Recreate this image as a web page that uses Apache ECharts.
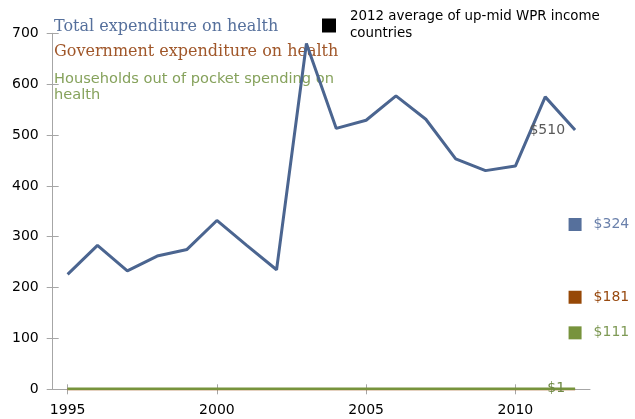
<!DOCTYPE html>
<html>
<head>
<meta charset="utf-8">
<script src="https://cdn.jsdelivr.net/npm/echarts@6/dist/echarts.min.js"></script>
<style>html,body{margin:0;padding:0;background:#fff}#c{width:635px;height:419px}</style>
</head>
<body>
<div id="c"></div>
<script>
// ---- data ----
var years = [1995,1996,1997,1998,1999,2000,2001,2002,2003,2004,2005,2006,2007,2008,2009,2010,2011,2012];
var totalExp = [226,283,233,262,275,332,283,235,680,513,529,577,531,453,430,439,575,510];
var govExp = [0,0,0,0,0,0,0,0,0,0,0,0,0,0,0,0,0,0];
var householdExp = [1,1,1,1,1,1,1,1,1,1,1,1,1,1,1,1,1,1];
var avgYear = 2012;
var avgValues = [324,181,111];
var yTicks = [0,100,200,300,400,500,600,700];
var xTickYears = [1995,2000,2005,2010];
var names = {
  total: 'Total expenditure on health',
  gov: 'Government expenditure on health',
  hh: 'Households out of pocket spending on health',
  avg: '2012 average of up-mid WPR income countries'
};

// ---- styles ----
var cBlue = '#4b6590', cBlueTxt = '#56709c';
var cOrange = '#974806', cOrangeTxt = '#a0572a';
var cGreen = '#77933c', cGreenTxt = '#86a25c';
var avgColors = ['#56709c', '#974806', '#77933c'];
var avgLabelColors = ['#6a80ab', '#984a10', '#7f9a56'];
var axisGray = '#a6a6a6';
var sans = 'DejaVu Sans';

function pairs(xs, ys){ return xs.map(function(x,i){ return [x, ys[i]]; }); }
function lastLabel(arr, txt, color){
  return arr.map(function(v,i){
    if (i === arr.length-1) return {value:[years[i], v], label:{show:true, position:'left', distance:10, formatter:txt, color:color, fontFamily:sans, fontSize:14}};
    return [years[i], v];
  });
}

var chart = echarts.init(document.getElementById('c'));
var grid = {left:52.7, right:45, top:33.3, bottom:29.7};
var xBase = {type:'value', min:1994.5, max:2012.5, splitLine:{show:false}};
var yBase = {type:'value', min:0, max:700, interval:100, splitLine:{show:false}};

chart.setOption({
  animation:false,
  backgroundColor:'#fff',
  grid: grid,
  xAxis: [
    Object.assign({}, xBase, {
      axisLine:{lineStyle:{color:axisGray, width:1}},
      axisTick:{show:true, length:5, customValues:xTickYears, lineStyle:{color:axisGray}},
      axisLabel:{customValues:xTickYears, color:'#000', fontFamily:sans, fontSize:14, margin:14, formatter:function(v){return String(v);}}
    }),
    Object.assign({}, xBase, {
      position:'bottom',
      axisLine:{show:false},
      axisTick:{show:true, inside:true, length:5, customValues:xTickYears, lineStyle:{color:axisGray}},
      axisLabel:{show:false}
    })
  ],
  yAxis: [
    Object.assign({}, yBase, {
      axisLine:{show:true, lineStyle:{color:axisGray, width:1}},
      axisTick:{show:true, length:6, lineStyle:{color:axisGray}},
      axisLabel:{color:'#000', fontFamily:sans, fontSize:14, margin:14}
    }),
    Object.assign({}, yBase, {
      position:'left',
      axisLine:{show:false},
      axisTick:{show:true, inside:true, length:6, lineStyle:{color:axisGray}},
      axisLabel:{show:false}
    })
  ],
  legend: [
    {left:49, top:18, padding:0, itemWidth:0, itemHeight:16, icon:'none', selectedMode:false,
     data:[names.total], textStyle:{color:cBlueTxt, fontFamily:'DejaVu Serif', fontSize:16, lineHeight:18}},
    {left:49, top:43, padding:0, itemWidth:0, itemHeight:16, icon:'none', selectedMode:false,
     data:[names.gov], textStyle:{color:cOrangeTxt, fontFamily:'DejaVu Serif', fontSize:16, lineHeight:18}},
    {left:49, top:71, padding:0, itemWidth:0, itemHeight:14, icon:'none', selectedMode:false,
     data:[names.hh], formatter:function(){return 'Households out of pocket spending on\nhealth';},
     textStyle:{color:cGreenTxt, fontFamily:sans, fontSize:14.6, lineHeight:16}},
    {left:322, top:8.5, padding:0, itemWidth:14, itemHeight:14, icon:'rect', selectedMode:false,
     data:[names.avg], formatter:function(){return '2012 average of up-mid WPR income\ncountries';},
     textStyle:{color:'#000', fontFamily:sans, fontSize:13.4, lineHeight:17, padding:[0,0,0,9]}}
  ],
  series: [
    {name:names.gov, type:'line', data:pairs(years, govExp), showSymbol:false, symbol:'none',
     lineStyle:{color:cOrange, width:2.5}, itemStyle:{color:cOrange}, z:2},
    {name:names.hh, type:'line', data:lastLabel(householdExp, '$1', '#6f8a45'), showSymbol:true, symbol:'circle', symbolSize:0,
     lineStyle:{color:cGreen, width:2.5}, itemStyle:{color:cGreen}, z:3, emphasis:{disabled:true}},
    {name:names.total, type:'line', data:lastLabel(totalExp, '$510', '#595959'), showSymbol:true, symbol:'circle', symbolSize:0,
     lineStyle:{color:cBlue, width:3}, itemStyle:{color:cBlue}, z:4, emphasis:{disabled:true}},
    {name:names.avg, type:'scatter', symbol:'rect', symbolSize:13, itemStyle:{color:'#000', opacity:1}, z:5,
     data: avgValues.map(function(v,i){
       return {value:[avgYear, v], itemStyle:{color:avgColors[i], opacity:1},
         label:{show:true, position:'right', distance:12, formatter:'$'+v, color:avgLabelColors[i], fontFamily:sans, fontSize:14}};
     })}
  ]
});
</script>
</body>
</html>
